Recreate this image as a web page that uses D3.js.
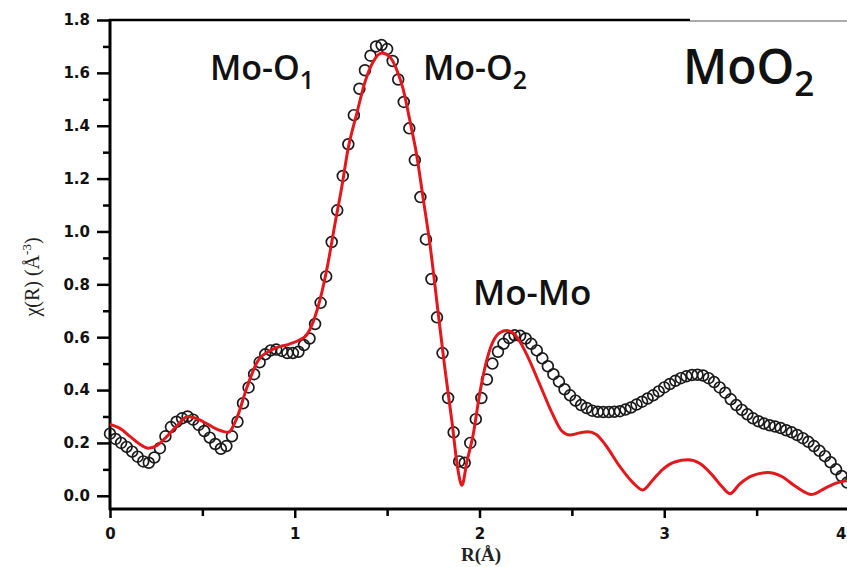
<!DOCTYPE html>
<html>
<head>
<meta charset="utf-8">
<script src="https://cdn.jsdelivr.net/npm/d3@7"></script>
<style>
  body { margin: 0; background: #fff; }
  svg { display: block; }
</style>
</head>
<body>
<div id="chart"></div>
<script>
// measured data (open circles): R in Angstrom, chi(R)
const rData = [
  0.00, 0.03, 0.06, 0.09, 0.12, 0.15, 0.18, 0.21, 0.24, 0.27,
  0.30, 0.33, 0.36, 0.39, 0.42, 0.45, 0.48, 0.51, 0.54, 0.57,
  0.60, 0.63, 0.66, 0.69, 0.72, 0.75, 0.78, 0.81, 0.84, 0.87,
  0.90, 0.93, 0.96, 0.99, 1.02, 1.05, 1.08, 1.11, 1.14, 1.17,
  1.20, 1.23, 1.26, 1.29, 1.32, 1.35, 1.38, 1.41, 1.44, 1.47,
  1.50, 1.53, 1.56, 1.59, 1.62, 1.65, 1.68, 1.71, 1.74, 1.77,
  1.80, 1.83, 1.86, 1.89, 1.92, 1.95, 1.98, 2.01, 2.04, 2.07,
  2.10, 2.13, 2.16, 2.19, 2.22, 2.25, 2.28, 2.31, 2.34, 2.37,
  2.40, 2.43, 2.46, 2.49, 2.52, 2.55, 2.58, 2.61, 2.64, 2.67,
  2.70, 2.73, 2.76, 2.79, 2.82, 2.85, 2.88, 2.91, 2.94, 2.97,
  3.00, 3.03, 3.06, 3.09, 3.12, 3.15, 3.18, 3.21, 3.24, 3.27,
  3.30, 3.33, 3.36, 3.39, 3.42, 3.45, 3.48, 3.51, 3.54, 3.57,
  3.60, 3.63, 3.66, 3.69, 3.72, 3.75, 3.78, 3.81, 3.84, 3.87,
  3.90, 3.93, 3.96, 3.99
];
const chiData = [
  0.235, 0.215, 0.200, 0.185, 0.167, 0.148, 0.130, 0.125, 0.145, 0.180,
  0.225, 0.260, 0.280, 0.293, 0.300, 0.288, 0.268, 0.245, 0.220, 0.196,
  0.178, 0.188, 0.225, 0.280, 0.350, 0.410, 0.460, 0.505, 0.535, 0.550,
  0.553, 0.548, 0.540, 0.540, 0.545, 0.570, 0.595, 0.650, 0.730, 0.830,
  0.960, 1.080, 1.210, 1.330, 1.440, 1.540, 1.610, 1.665, 1.700, 1.705,
  1.690, 1.645, 1.575, 1.490, 1.390, 1.270, 1.130, 0.970, 0.820, 0.675,
  0.540, 0.370, 0.240, 0.130, 0.125, 0.200, 0.290, 0.370, 0.440, 0.500,
  0.545, 0.575, 0.597, 0.607, 0.605, 0.595, 0.575, 0.550, 0.520, 0.490,
  0.460, 0.432, 0.403, 0.380, 0.360, 0.343, 0.332, 0.322, 0.318, 0.317,
  0.317, 0.318, 0.320, 0.326, 0.334, 0.345, 0.356, 0.368, 0.380, 0.395,
  0.410, 0.423, 0.435, 0.445, 0.452, 0.457, 0.458, 0.455, 0.445, 0.430,
  0.410, 0.390, 0.365, 0.343, 0.325, 0.308, 0.293, 0.282, 0.273, 0.267,
  0.262, 0.256, 0.248, 0.240, 0.230, 0.218, 0.204, 0.188, 0.170, 0.150,
  0.127, 0.100, 0.075, 0.050
];

// fit (red line)
const rFit = [
  0.000, 0.054, 0.108, 0.162, 0.206, 0.254, 0.308, 0.363, 0.422, 0.476,
  0.530, 0.584, 0.639, 0.687, 0.741, 0.800, 0.877, 0.974, 1.028, 1.066,
  1.098, 1.136, 1.180, 1.218, 1.255, 1.288, 1.337, 1.380, 1.423, 1.472,
  1.515, 1.553, 1.586, 1.623, 1.661, 1.694, 1.732, 1.775, 1.813, 1.851,
  1.883, 1.905, 1.932, 1.964, 2.002, 2.040, 2.073, 2.110, 2.148, 2.181,
  2.219, 2.256, 2.327, 2.397, 2.446, 2.489, 2.543, 2.587, 2.630, 2.679,
  2.760, 2.830, 2.884, 2.938, 2.992, 3.057, 3.128, 3.193, 3.258, 3.312,
  3.355, 3.409, 3.474, 3.561, 3.636, 3.712, 3.799, 3.869, 3.923, 3.988
];
const chiFit = [
  0.270, 0.255, 0.225, 0.195, 0.180, 0.190, 0.225, 0.265, 0.300, 0.290,
  0.270, 0.250, 0.240, 0.295, 0.410, 0.510, 0.553, 0.575, 0.590, 0.610,
  0.655, 0.740, 0.880, 1.030, 1.170, 1.310, 1.450, 1.565, 1.640, 1.675,
  1.660, 1.610, 1.540, 1.420, 1.285, 1.130, 0.950, 0.700, 0.480, 0.280,
  0.100, 0.040, 0.130, 0.225, 0.390, 0.515, 0.583, 0.617, 0.625, 0.617,
  0.583, 0.534, 0.420, 0.307, 0.245, 0.230, 0.238, 0.242, 0.233, 0.195,
  0.110, 0.050, 0.022, 0.060, 0.100, 0.128, 0.136, 0.122, 0.080, 0.035,
  0.008, 0.045, 0.075, 0.088, 0.073, 0.035, 0.005, 0.028, 0.046, 0.058
];

const xTicks = [0, 1, 2, 3, 4];
const xMinorTicks = [0.5, 1.5, 2.5, 3.5];
const yTicks = [0.0, 0.2, 0.4, 0.6, 0.8, 1.0, 1.2, 1.4, 1.6, 1.8];
const yMinorTicks = [0.1, 0.3, 0.5, 0.7, 0.9, 1.1, 1.3, 1.5, 1.7];

const W = 847, H = 567;
const svg = d3.select("#chart").append("svg")
    .attr("width", W)
    .attr("height", H);

const x = d3.scaleLinear().domain([0, 4]).range([110, 849]);
const y = d3.scaleLinear().domain([-0.05, 1.8]).range([509, 20]);

const tickFont = "'DejaVu Sans', Arial, sans-serif";

// minor ticks
svg.append("g")
    .attr("transform", `translate(${x(0)},0)`)
    .call(d3.axisLeft(y).tickValues(yMinorTicks).tickSize(7).tickSizeOuter(0).tickFormat(""))
    .call(g => g.select(".domain").remove())
    .selectAll("line").attr("stroke", "#000").attr("stroke-width", 2.5);

svg.append("g")
    .attr("transform", `translate(0,${y(-0.05)})`)
    .call(d3.axisBottom(x).tickValues(xMinorTicks).tickSize(7).tickSizeOuter(0).tickFormat(""))
    .call(g => g.select(".domain").remove())
    .selectAll("line").attr("stroke", "#000").attr("stroke-width", 2.5);

// major ticks
const yAxisG = svg.append("g")
    .attr("transform", `translate(${x(0)},0)`)
    .call(d3.axisLeft(y).tickValues(yTicks).tickSize(13).tickSizeOuter(0)
        .tickPadding(7).tickFormat(d3.format(".1f")));
yAxisG.select(".domain").remove();
yAxisG.selectAll("line").attr("stroke", "#000").attr("stroke-width", 2.5);
yAxisG.selectAll("text")
    .attr("fill", "#111")
    .style("font-family", tickFont)
    .style("font-weight", "bold")
    .style("font-size", "15px");

const xAxisG = svg.append("g")
    .attr("transform", `translate(0,${y(-0.05)})`)
    .call(d3.axisBottom(x).tickValues(xTicks).tickSize(9).tickSizeOuter(0)
        .tickPadding(10).tickFormat(d3.format("d")));
xAxisG.select(".domain").remove();
xAxisG.selectAll("line").attr("stroke", "#000").attr("stroke-width", 2.5);
xAxisG.selectAll("text")
    .attr("fill", "#111")
    .style("font-family", tickFont)
    .style("font-weight", "bold")
    .style("font-size", "15px");
// last label sits at the page edge, keep it inside
xAxisG.selectAll(".tick").filter(d => d === 4).select("text")
    .attr("text-anchor", "end")
    .attr("dx", -3);

// frame lines
svg.append("line")
    .attr("x1", x(0)).attr("x2", x(0))
    .attr("y1", y(1.8) - 1).attr("y2", y(-0.05) + 1)
    .attr("stroke", "#000").attr("stroke-width", 3);
svg.append("line")
    .attr("x1", x(0) - 1).attr("x2", W)
    .attr("y1", y(-0.05)).attr("y2", y(-0.05))
    .attr("stroke", "#000").attr("stroke-width", 3);
svg.append("line")
    .attr("x1", x(0) - 1).attr("x2", 690)
    .attr("y1", y(1.8)).attr("y2", y(1.8))
    .attr("stroke", "#000").attr("stroke-width", 2.5);
svg.append("line")
    .attr("x1", 690).attr("x2", W)
    .attr("y1", y(1.8) + 1).attr("y2", y(1.8) + 1)
    .attr("stroke", "#555").attr("stroke-width", 1.2);

// data circles
const pts = rData.map((r, i) => ({ r: r, chi: chiData[i] }));
svg.append("g")
    .selectAll("circle")
    .data(pts)
    .join("circle")
    .attr("cx", d => x(d.r))
    .attr("cy", d => y(d.chi))
    .attr("r", 5.4)
    .attr("fill", "none")
    .attr("stroke", "#1a1a1a")
    .attr("stroke-width", 1.7);

// fit line
const fitPts = rFit.map((r, i) => ({ r: r, chi: chiFit[i] }));
const lineGen = d3.line()
    .x(d => x(d.r))
    .y(d => y(d.chi))
    .curve(d3.curveMonotoneX);
svg.append("path")
    .datum(fitPts)
    .attr("d", lineGen)
    .attr("fill", "none")
    .attr("stroke", "#e3171c")
    .attr("stroke-width", 3)
    .attr("stroke-linejoin", "round");

// axis titles
svg.append("text")
    .attr("x", 481).attr("y", 561)
    .attr("text-anchor", "middle")
    .style("font-family", "'Liberation Serif', 'Times New Roman', serif")
    .style("font-weight", "bold")
    .style("font-size", "19px")
    .attr("fill", "#222")
    .text("R(Å)");

const yLab = svg.append("text")
    .attr("transform", "translate(39,277) rotate(-90)")
    .attr("text-anchor", "middle")
    .style("font-family", "'Liberation Serif', 'Times New Roman', serif")
    .style("font-size", "20px")
    .attr("fill", "#222");
yLab.append("tspan").text("χ(R) (Å");
yLab.append("tspan").attr("dy", -8).style("font-size", "13px").text("-3");
yLab.append("tspan").attr("dy", 8).text(")");

// peak annotations
const annFont = "'Open Sans', 'Noto Sans', sans-serif";
function label(tx, ty, main, sub, size, subSize, subShift) {
    const t = svg.append("text")
        .attr("x", tx).attr("y", ty)
        .style("font-family", annFont)
        .style("font-weight", 600)
        .style("font-size", size + "px")
        .attr("fill", "#111");
    t.append("tspan").text(main);
    if (sub) {
        t.append("tspan").attr("dy", subShift).style("font-size", subSize + "px").text(sub);
    }
}
label(210, 80, "Mo-O", "1", 34, 25, 9);
label(423, 80, "Mo-O", "2", 34, 25, 9);
label(683, 84, "MoO", "2", 48, 35, 12);
label(473, 305, "Mo-Mo", null, 35, 0, 0);
</script>
</body>
</html>
